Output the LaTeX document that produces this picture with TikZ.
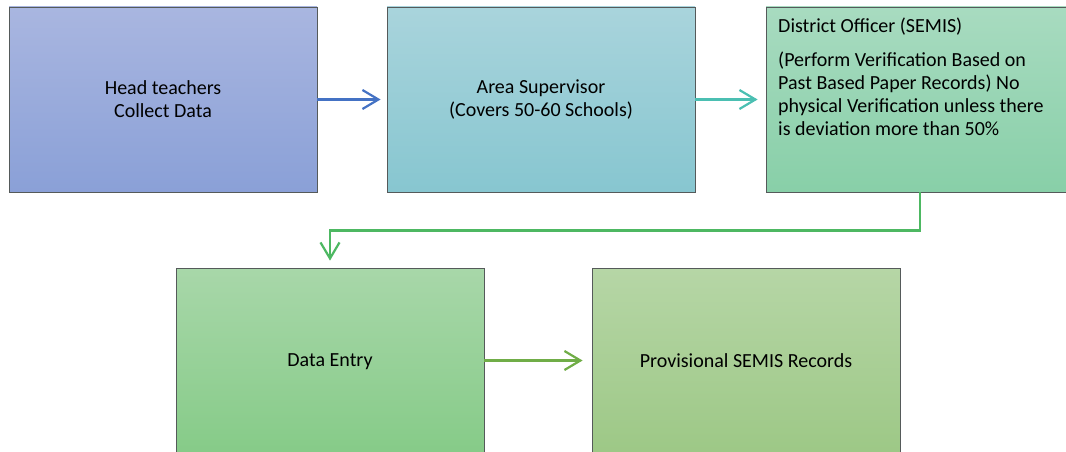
\documentclass[tikz,border=0pt]{standalone}
\usepackage{fontspec}
\setmainfont{Carlito}
\usetikzlibrary{arrows.meta}
\definecolor{bAt}{HTML}{A9B6E0}\definecolor{bAb}{HTML}{8AA0D7}
\definecolor{bBt}{HTML}{A9D4DC}\definecolor{bBb}{HTML}{87C6D0}
\definecolor{bCt}{HTML}{A8DBC0}\definecolor{bCb}{HTML}{88CFA8}
\definecolor{bDt}{HTML}{A8D7A9}\definecolor{bDb}{HTML}{86CB88}
\definecolor{bEt}{HTML}{B6D6A6}\definecolor{bEb}{HTML}{9DC886}
\definecolor{edge}{HTML}{555A5A}
\definecolor{arA}{HTML}{4472C4}
\definecolor{arB}{HTML}{4BBFB2}
\definecolor{arC}{HTML}{4DB862}
\definecolor{arD}{HTML}{70AD47}
\tikzset{
  flowbox/.style={draw=edge, line width=0.8pt, minimum width=308pt, minimum height=185pt,
    inner sep=0pt, align=center, font=\fontsize{20}{23}\selectfont, text=black},
  conn/.style={line width=2.2pt, -{Straight Barb[length=16pt,width=19pt,line width=2.2pt]}},
}
\begin{document}
\begin{tikzpicture}[x=1pt,y=1pt]
\useasboundingbox (0,0) rectangle (1066,451);
\clip (0,0) rectangle (1066,451);
\node[flowbox, top color=bAt, bottom color=bAb] (hd) at (163,351.5) {Head teachers\\Collect Data};
\node[flowbox, top color=bBt, bottom color=bBb] (as) at (541,351.5) {Area Supervisor\\(Covers 50-60 Schools)};
\node[flowbox, top color=bCt, bottom color=bCb] (do) at (920,351.5) {};
\node[anchor=base west, inner sep=0pt] (dotext) at (778,418)
  {\parbox[t]{285pt}{\fontsize{20}{23}\selectfont\raggedright\setlength{\parskip}{11pt}%
  District Officer (SEMIS)\par
  (Perform Verification Based on\\Past Based Paper Records) No\\physical Verification unless there\\is deviation more than 50\%}};
\node[flowbox, top color=bDt, bottom color=bDb, text depth=0pt] (de) at (330,90.5) {Data Entry};
\node[flowbox, top color=bEt, bottom color=bEb, text depth=0pt] (ps) at (746,90.5) {Provisional SEMIS Records};
\draw[conn, draw=arA, shorten >=6pt] (hd.east) -- (as.west);
\draw[conn, draw=arB, shorten >=8pt] (as.east) -- (do.west);
\draw[conn, draw=arC, shorten >=7pt] (do.south) -- ++(0,-38) -| (de.north);
\draw[conn, draw=arD, shorten >=9pt] (de.east) -- (ps.west);
\end{tikzpicture}
\end{document}
